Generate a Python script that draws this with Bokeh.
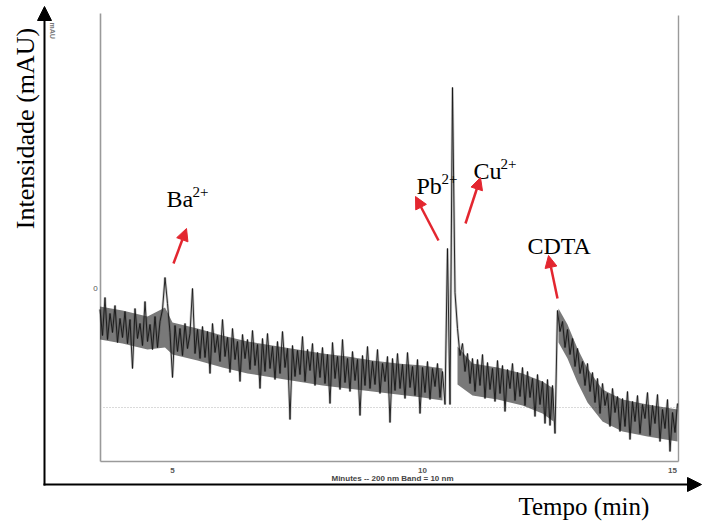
import numpy as np
from bokeh.plotting import figure
from bokeh.models import Range1d, Arrow, NormalHead
from bokeh.core.properties import value
from bokeh.embed import file_html
from bokeh.resources import INLINE

# Detector signal (mAU), one reading every 0.05 min starting at 3.55 min
t_start, t_step = 3.55, 0.05
signal = [
    9.8, 7.2, 11.0, 6.8, 9.4, 7.5, 10.2, 6.5, 8.9, 7.0,
    9.6, 6.4, 8.8, 3.9, 9.9, 6.9, 8.4, 6.2, 10.6, 6.6,
    8.3, 5.8, 9.1, 6.0, 8.6, 9.8, 13.0, 10.4, 7.5, 3.0,
    8.2, 5.6, 7.9, 5.2, 8.4, 5.9, 7.4, 11.9, 5.4, 7.8,
    4.9, 8.1, 5.0, 7.6, 3.4, 8.4, 5.5, 7.2, 4.6, 8.8,
    5.1, 7.0, 3.5, 7.9, 4.8, 6.6, 2.6, 7.3, 4.9, 6.8,
    3.8, 7.7, 4.2, 6.3, 1.9, 6.9, 3.6, 7.4, 3.9, 6.1,
    2.8, 6.6, 3.4, 7.6, 4.0, 5.9, -1.2, 6.2, 3.1, 5.7,
    3.3, 7.1, 2.6, 5.8, 3.7, 6.4, 2.2, 5.5, 3.0, 6.0,
    2.4, 5.3, 0.4, 6.5, 2.9, 5.1, 1.8, 6.8, 2.5, 4.9,
    1.6, 5.6, 2.7, 4.8, -0.8, 5.2, 2.2, 6.1, 1.9, 4.6,
    2.3, 5.8, 1.4, 4.4, 2.6, 5.1, -1.5, 4.9, 1.7, 5.4,
    1.9, 4.3, 0.9, 5.5, 2.0, 4.1, 1.2, 4.8, -0.6, 4.0,
    1.5, 4.6, 0.8, 3.9, 2.1, 4.4, 1.0, 3.6, 0.3, 15.9,
    0.3, 32.0, 11.5, 7.9, 5.2, 6.4, 3.6, 5.4, 2.4, 4.9,
    1.6, 4.8, 2.2, 5.3, 0.9, 4.5, 1.8, 3.9, 0.6, 4.7,
    1.4, 4.2, -0.4, 3.8, 1.9, 4.4, 0.7, 3.5, 1.1, 4.0,
    0.2, 3.6, 1.0, 2.9, -0.9, 3.3, 0.3, 2.6, -1.6, 2.8,
    -1.8, 2.2, -2.6, 9.7, 7.6, 8.6, 6.0, 7.8, 5.3, 6.9,
    4.1, 5.9, 3.4, 4.6, 2.2, 4.4, 1.6, 3.5, 0.5, 2.9,
    -0.6, 2.4, 0.2, 1.4, -1.9, 1.9, -0.5, 1.1, -2.4, 0.9,
    -1.9, 1.6, -3.2, 0.6, -1.4, 1.2, -2.6, 0.3, -1.1, 1.5,
    -2.8, 0.2, -1.6, 1.3, -3.4, -0.2, -2.1, 0.8, -4.4, -0.5,
    -2.5, 0.4,
]
time = t_start + t_step * np.arange(len(signal))

# Dense noise core of the baseline (mAU), in three stretches between the peaks
core_segment = ["a"] * 16 + ["b"] * 6 + ["c"] * 8
core_t = [3.55, 4.0, 4.5, 4.85, 5.0, 5.5, 6.0, 6.5, 7.0, 7.5, 8.0, 8.5, 9.0, 9.5, 10.0, 10.4,
          10.7, 11.0, 11.5, 12.0, 12.4, 12.62,
          12.72, 12.9, 13.1, 13.3, 13.6, 14.0, 14.5, 15.1]
core_lo = [6.8, 6.4, 5.8, 6.0, 5.3, 4.7, 4.0, 3.4, 3.0, 2.6, 2.2, 1.9, 1.6, 1.3, 1.0, 0.7,
           2.3, 1.2, 0.8, 0.2, -0.6, -1.4,
           6.5, 4.9, 2.5, 0.5, -1.4, -2.4, -2.9, -3.4]
core_hi = [10.1, 9.7, 9.1, 10.0, 8.5, 7.9, 7.2, 6.6, 6.2, 5.8, 5.4, 5.1, 4.7, 4.4, 4.2, 3.9,
           6.1, 4.4, 4.0, 3.4, 2.6, 1.9,
           9.9, 8.3, 5.9, 3.9, 1.8, 0.8, 0.3, -0.2]

# Peak annotations
peak_names = ["Ba", "Pb", "Cu", "CDTA"]
peak_charges = ["2+", "2+", "2+", ""]

# Minute ticks printed on the instrument trace
tick_minutes = [5, 10, 15]
tick_labels = ["5", "10", "15"]

W, H = 702, 521


# pixel <-> data helpers for placing annotations
def tx(px):
    return 5 + (px - 172) / 50.0


def ty(py):
    return (407 - py) / 10.0


p = figure(width=W, height=H, output_backend="svg", toolbar_location=None,
           x_range=Range1d(tx(0), tx(W)), y_range=Range1d(ty(H), ty(0)),
           x_axis_location=None, y_axis_location=None, title=None,
           min_border=0, outline_line_color=None)
p.grid.visible = False
p.background_fill_color = "white"

# instrument frame (left, bottom, right)
frame_col = "#9a9a9a"
p.line([tx(100), tx(100)], [ty(13), ty(461)], line_color=frame_col, line_width=1.6)
p.line([tx(100), tx(678)], [ty(461), ty(461)], line_color=frame_col, line_width=1.6)
p.line([tx(678), tx(678)], [ty(15), ty(461)], line_color=frame_col, line_width=1.4)
# dotted zero baseline
p.line([tx(103), tx(678)], [0, 0], line_color="#b5b5b5", line_width=1, line_dash="1 2")

# dense noise core, a soft halo of the trace, then the trace itself
seg_arr = np.array(core_segment)
ct, clo, chi = np.array(core_t), np.array(core_lo), np.array(core_hi)
for s in ["a", "b", "c"]:
    m = seg_arr == s
    p.varea(x=ct[m], y1=clo[m], y2=chi[m], fill_color="#262626", fill_alpha=0.62)
p.line(time, signal, line_color="#333333", line_width=2.6, line_alpha=0.28)
p.line(time, signal, line_color="#151515", line_width=1.0, line_alpha=0.9)

# tick labels and captions of the instrument printout
p.text(x=tick_minutes, y=[ty(470)] * len(tick_minutes), text=tick_labels,
       text_font=value("Liberation Sans"), text_font_size="8px", text_font_style="bold",
       text_color="#555555", text_align="center", text_baseline="alphabetic")
p.text(x=[tx(392)], y=[ty(478)], text=["Minutes -- 200 nm Band = 10 nm"],
       text_font=value("Liberation Sans"), text_font_size="8px", text_font_style="bold",
       text_color="#444444", text_align="center", text_baseline="alphabetic")
p.text(x=[tx(95)], y=[ty(288)], text=["0"],
       text_font=value("Liberation Sans"), text_font_size="8px",
       text_color="#555555", text_align="center", text_baseline="middle")
p.text(x=[tx(52)], y=[ty(22)], text=["mAU"], angle=-np.pi / 2,
       text_font=value("Liberation Sans"), text_font_size="7px", text_font_style="bold",
       text_color="#777777", text_align="left", text_baseline="middle")

# outer axes with arrow heads
p.add_layout(Arrow(end=NormalHead(size=14, fill_color="black", line_color="black"),
                   x_start=tx(44), y_start=ty(485), x_end=tx(44), y_end=ty(6),
                   line_color="black", line_width=2))
p.add_layout(Arrow(end=NormalHead(size=14, fill_color="black", line_color="black"),
                   x_start=tx(43), y_start=ty(484), x_end=tx(701), y_end=ty(484),
                   line_color="black", line_width=2))

serif = value("Liberation Serif")
p.text(x=[tx(25)], y=[ty(128)], text=["Intensidade (mAU)"], angle=np.pi / 2,
       text_font=serif, text_font_size="26px", text_color="black",
       text_align="center", text_baseline="middle")
p.text(x=[tx(518)], y=[ty(506)], text=["Tempo (min)"],
       text_font=serif, text_font_size="25px", text_color="black",
       text_align="left", text_baseline="alphabetic")

# peak labels with superscript charges
label_px = [166, 416, 473, 527]
label_py = [198, 185, 170, 245]
name_w = [26, 25, 27, 0]
p.text(x=[tx(v) for v in label_px], y=[ty(v) for v in label_py], text=peak_names,
       text_font=serif, text_font_size="24px", text_color="black",
       text_align="left", text_baseline="alphabetic")
p.text(x=[tx(a + b) for a, b in zip(label_px, name_w)], y=[ty(v - 7) for v in label_py],
       text=peak_charges, text_font=serif, text_font_size="15px", text_color="black",
       text_align="left", text_baseline="alphabetic")

# red arrows pointing from the peaks to their labels
red = "#e3262f"
arrow_px = [(173, 263, 186, 228), (438, 240, 415, 196), (465, 223, 480, 177), (557, 298, 548, 255)]
for x0, y0, x1, y1 in arrow_px:
    p.add_layout(Arrow(end=NormalHead(size=12, fill_color=red, line_color=red),
                       x_start=tx(x0), y_start=ty(y0), x_end=tx(x1), y_end=ty(y1),
                       line_color=red, line_width=2.5))

open("out.html", "w").write(file_html(p, INLINE))
